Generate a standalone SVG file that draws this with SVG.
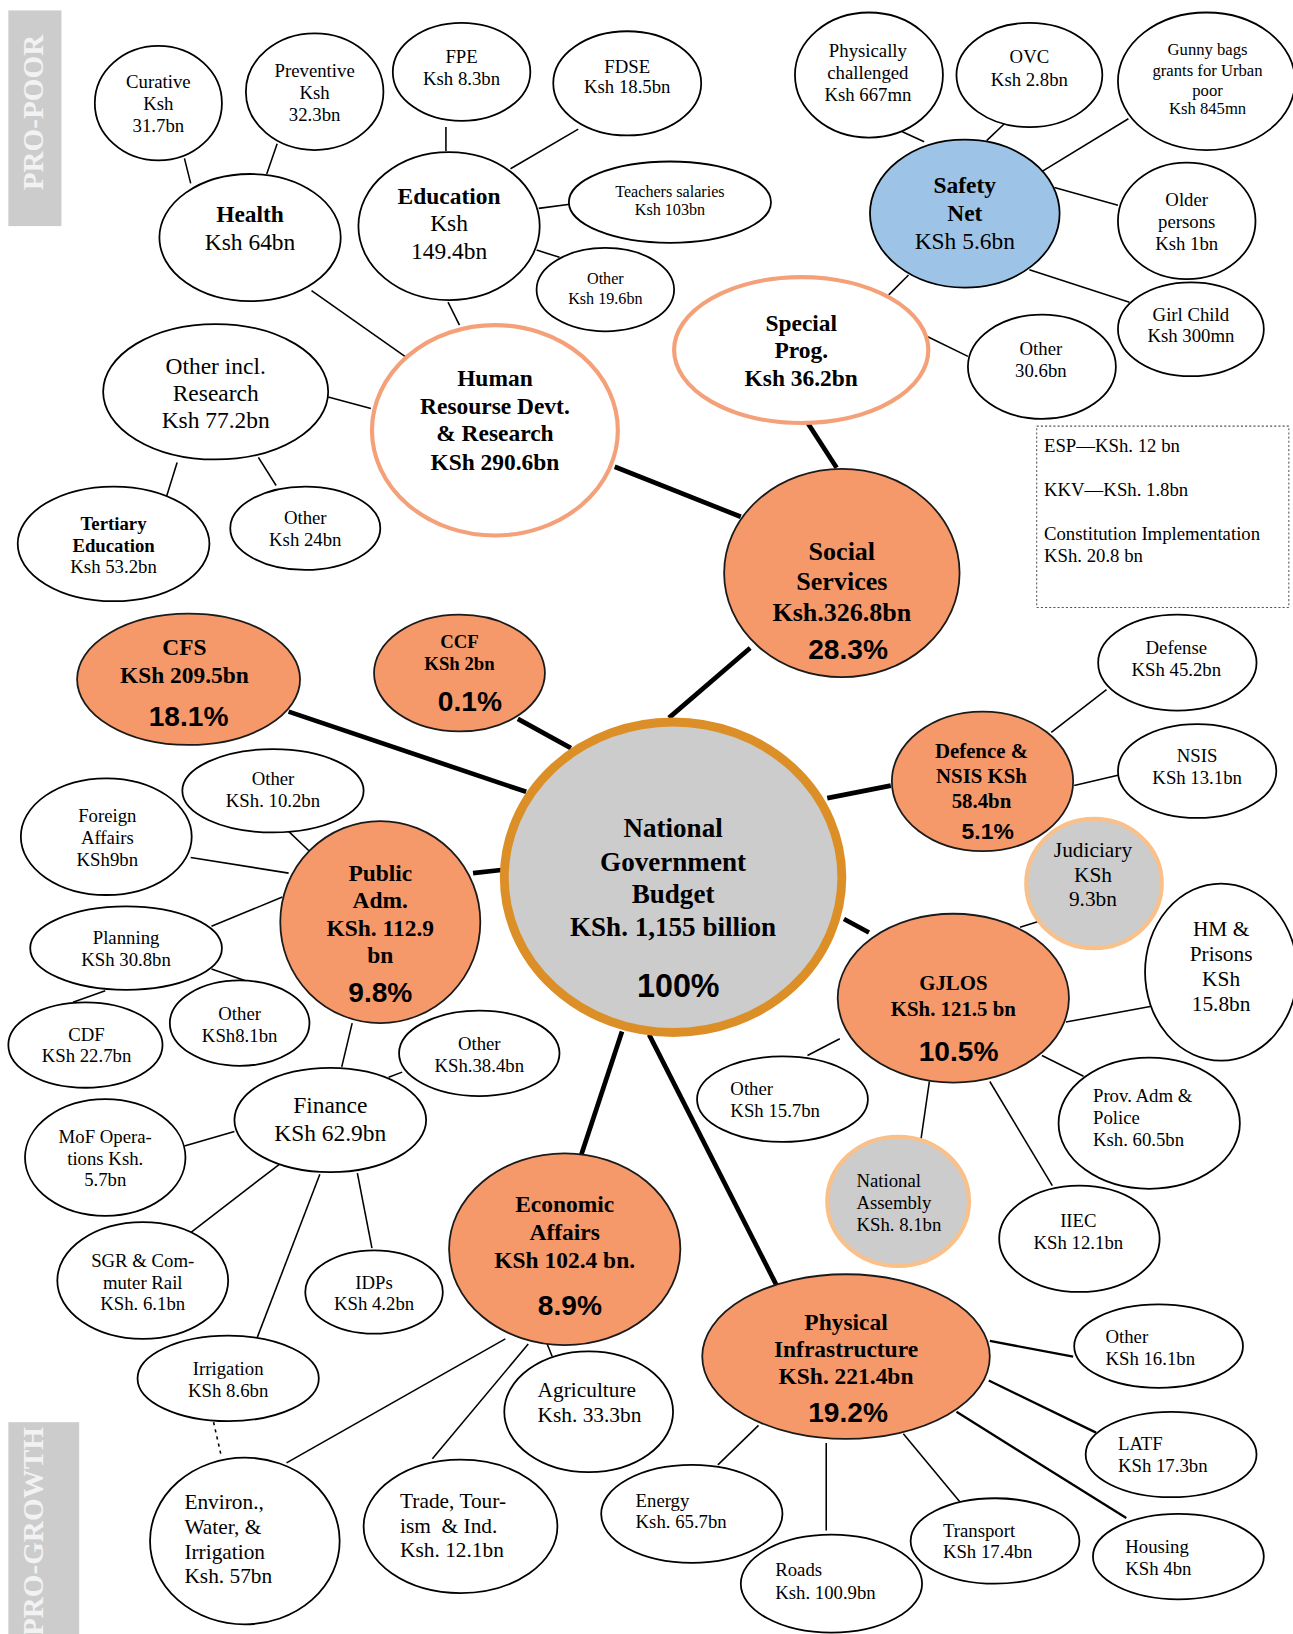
<svg xmlns="http://www.w3.org/2000/svg" width="1293" height="1634" viewBox="0 0 1293 1634">
<style>
.leaf{fill:#ffffff;stroke:#000000;stroke-width:1.7}
.org{fill:#f6996a;stroke:#1a1a1a;stroke-width:1.7}
.ring{fill:#ffffff;stroke:#f4a17a;stroke-width:4}
.grey{fill:#cccccc;stroke:#f9c08a;stroke-width:4}
.blue{fill:#9dc3e6;stroke:#000000;stroke-width:1.7}
text{font-family:"Liberation Serif","Times New Roman",serif;fill:#000000;dominant-baseline:central}
.c{text-anchor:middle}
.s{text-anchor:start}
.f15{font-size:15.5px}
.f16{font-size:16px}
.f18{font-size:18px}
.f20{font-size:20px}
.f205{font-size:20.5px}
.f22{font-size:22.5px}
.b{font-weight:bold}
.pct{font-family:"Liberation Sans",Arial,sans-serif;font-weight:bold;text-anchor:middle}
.side{font-weight:bold;font-size:28px;fill:#f2f2f2;text-anchor:middle}
.thin{stroke:#000000;stroke-width:1.5}
.mid{stroke:#000000;stroke-width:2.2}
.thick{stroke:#000000;stroke-width:4.5}
</style>
<rect x="0" y="0" width="1293" height="1634" fill="#ffffff"/>
<g transform="scale(1.0419)">
<g id="connectors" fill="none">
<line class="thick" x1="590" y1="448" x2="711" y2="496"/>
<line class="thick" x1="774" y1="404" x2="803" y2="449"/>
<line class="thick" x1="720" y1="622" x2="642" y2="689"/>
<line class="thick" x1="277" y1="683" x2="505" y2="760"/>
<line class="thick" x1="497" y1="690" x2="548" y2="718"/>
<line class="thick" x1="454" y1="838" x2="481" y2="835"/>
<line class="thick" x1="794" y1="766" x2="855" y2="754"/>
<line class="thick" x1="810" y1="882" x2="834" y2="895"/>
<line class="thick" x1="597" y1="990" x2="558" y2="1108"/>
<line class="thick" x1="623" y1="993" x2="745" y2="1233"/>
<line class="thin" x1="177" y1="152" x2="183" y2="176"/>
<line class="thin" x1="266" y1="138" x2="256" y2="167"/>
<line class="thin" x1="428" y1="122" x2="428" y2="145"/>
<line class="thin" x1="555" y1="124" x2="490" y2="162"/>
<line class="thin" x1="547" y1="196" x2="517" y2="200"/>
<line class="thin" x1="537" y1="247" x2="515" y2="240"/>
<line class="thin" x1="430" y1="290" x2="441" y2="312"/>
<line class="thin" x1="299" y1="279" x2="390" y2="343"/>
<line class="thin" x1="315" y1="381" x2="356" y2="392"/>
<line class="thin" x1="170" y1="444" x2="160" y2="476"/>
<line class="thin" x1="248" y1="439" x2="265" y2="466"/>
<line class="thin" x1="865" y1="126" x2="887" y2="136"/>
<line class="thin" x1="969" y1="114" x2="947" y2="135"/>
<line class="thin" x1="1083" y1="114" x2="1001" y2="164"/>
<line class="thin" x1="1073" y1="197" x2="1012" y2="180"/>
<line class="thin" x1="1084" y1="290" x2="988" y2="259"/>
<line class="thin" x1="872" y1="264" x2="853" y2="283"/>
<line class="thin" x1="890" y1="323" x2="929" y2="342"/>
<line class="thin" x1="1062" y1="662" x2="1009" y2="703"/>
<line class="thin" x1="1073" y1="744" x2="1031" y2="754"/>
<line class="thin" x1="979" y1="890" x2="998" y2="884"/>
<line class="thin" x1="1104" y1="966" x2="1023" y2="981"/>
<line class="thin" x1="775" y1="1013" x2="806" y2="997"/>
<line class="thin" x1="1000" y1="1013" x2="1040" y2="1033"/>
<line class="thin" x1="892" y1="1038" x2="884" y2="1093"/>
<line class="thin" x1="950" y1="1038" x2="1010" y2="1138"/>
<line class="thin" x1="275" y1="796" x2="297" y2="817"/>
<line class="thin" x1="183" y1="823" x2="277" y2="838"/>
<line class="thin" x1="203" y1="889" x2="271" y2="861"/>
<line class="thin" x1="203" y1="930" x2="235" y2="941"/>
<line class="thin" x1="101" y1="951" x2="70" y2="962"/>
<line class="thin" x1="338" y1="982" x2="328" y2="1024"/>
<line class="thin" x1="386" y1="1029" x2="373" y2="1034"/>
<line class="thin" x1="177" y1="1100" x2="225" y2="1086"/>
<line class="thin" x1="183" y1="1183" x2="270" y2="1116"/>
<line class="thin" x1="246" y1="1286" x2="307" y2="1127"/>
<line class="thin" x1="357" y1="1198" x2="343" y2="1126"/>
<line class="thin" x1="205" y1="1365" x2="212" y2="1396" stroke-dasharray="3,4"/>
<line class="thin" x1="485" y1="1285" x2="275" y2="1404"/>
<line class="thin" x1="507" y1="1290" x2="415" y2="1400"/>
<line class="thin" x1="524" y1="1287" x2="530" y2="1302"/>
<line class="mid" x1="950" y1="1287" x2="1030" y2="1302"/>
<line class="mid" x1="949" y1="1325" x2="1052" y2="1375"/>
<line class="mid" x1="918" y1="1355" x2="1081" y2="1457"/>
<line class="thin" x1="867" y1="1376" x2="921" y2="1441"/>
<line class="thin" x1="793" y1="1385" x2="793" y2="1469"/>
<line class="thin" x1="728" y1="1368" x2="689" y2="1406"/>
</g>

<g id="pro-poor"><rect x="8" y="10" width="51" height="207" fill="#cccccc"/><text class="side" transform="translate(32,108) rotate(-90)">PRO-POOR</text></g>
<g id="pro-growth"><rect x="8" y="1365" width="68" height="210" fill="#cccccc"/><text class="side" transform="translate(32,1470) rotate(-90)">PRO-GROWTH</text></g>

<g id="curative"><ellipse class="leaf" cx="152" cy="99" rx="61" ry="55"/><text class="c f18"><tspan x="152" y="78">Curative</tspan><tspan x="152" y="99">Ksh</tspan><tspan x="152" y="120">31.7bn</tspan></text></g>
<g id="preventive"><ellipse class="leaf" cx="302" cy="88" rx="66" ry="56"/><text class="c f18"><tspan x="302" y="67">Preventive</tspan><tspan x="302" y="88">Ksh</tspan><tspan x="302" y="109">32.3bn</tspan></text></g>
<g id="fpe"><ellipse class="leaf" cx="443" cy="69" rx="66" ry="47"/><text class="c f18"><tspan x="443" y="54">FPE</tspan><tspan x="443" y="75">Ksh 8.3bn</tspan></text></g>
<g id="fdse"><ellipse class="leaf" cx="602" cy="80" rx="71" ry="50"/><text class="c f18"><tspan x="602" y="63">FDSE</tspan><tspan x="602" y="83">Ksh 18.5bn</tspan></text></g>
<g id="health"><ellipse class="leaf" cx="240" cy="228" rx="87" ry="61"/><text class="c f22"><tspan x="240" y="205" class="b">Health</tspan><tspan x="240" y="232">Ksh 64bn</tspan></text></g>
<g id="education"><ellipse class="leaf" cx="431" cy="217" rx="87" ry="71"/><text class="c f22"><tspan x="431" y="188" class="b">Education</tspan><tspan x="431" y="214">Ksh</tspan><tspan x="431" y="241">149.4bn</tspan></text></g>
<g id="teachers"><ellipse class="leaf" cx="643" cy="194" rx="97" ry="39"/><text class="c f15"><tspan x="643" y="183">Teachers salaries</tspan><tspan x="643" y="201">Ksh 103bn</tspan></text></g>
<g id="edu-other"><ellipse class="leaf" cx="581" cy="278" rx="66" ry="40"/><text class="c f15"><tspan x="581" y="267">Other</tspan><tspan x="581" y="286">Ksh 19.6bn</tspan></text></g>
<g id="hrd"><ellipse class="ring" cx="475" cy="413" rx="118" ry="101"/><text class="c f22 b"><tspan x="475" y="363">Human</tspan><tspan x="475" y="390">Resourse Devt.</tspan><tspan x="475" y="416">&amp; Research</tspan><tspan x="475" y="443">KSh 290.6bn</tspan></text></g>
<g id="other-incl"><ellipse class="leaf" cx="207" cy="376" rx="108" ry="65"/><text class="c f22"><tspan x="207" y="351">Other incl.</tspan><tspan x="207" y="377">Research</tspan><tspan x="207" y="403">Ksh 77.2bn</tspan></text></g>
<g id="tertiary"><ellipse class="leaf" cx="109" cy="522" rx="92" ry="55"/><text class="c f18"><tspan x="109" y="502" class="b">Tertiary</tspan><tspan x="109" y="523" class="b">Education</tspan><tspan x="109" y="543">Ksh 53.2bn</tspan></text></g>
<g id="hrd-other"><ellipse class="leaf" cx="293" cy="507" rx="72" ry="40"/><text class="c f18"><tspan x="293" y="496">Other</tspan><tspan x="293" y="517">Ksh 24bn</tspan></text></g>

<g id="physically"><ellipse class="leaf" cx="834" cy="72" rx="71" ry="60"/><text class="c f18"><tspan x="833" y="48">Physically</tspan><tspan x="833" y="69">challenged</tspan><tspan x="833" y="90">Ksh 667mn</tspan></text></g>
<g id="ovc"><ellipse class="leaf" cx="988" cy="72" rx="70" ry="50"/><text class="c f18"><tspan x="988" y="54">OVC</tspan><tspan x="988" y="76">Ksh 2.8bn</tspan></text></g>
<g id="gunny"><ellipse class="leaf" cx="1158" cy="78" rx="85" ry="66"/><text class="c f16"><tspan x="1159" y="47">Gunny bags</tspan><tspan x="1159" y="67">grants for Urban</tspan><tspan x="1159" y="86">poor</tspan><tspan x="1159" y="104">Ksh 845mn</tspan></text></g>
<g id="safety-net"><ellipse class="blue" cx="926" cy="205" rx="91" ry="71"/><text class="c f22"><tspan x="926" y="178" class="b">Safety</tspan><tspan x="926" y="204" class="b">Net</tspan><tspan x="926" y="231">KSh 5.6bn</tspan></text></g>
<g id="older"><ellipse class="leaf" cx="1139" cy="212" rx="66" ry="56"/><text class="c f18"><tspan x="1139" y="191">Older</tspan><tspan x="1139" y="212">persons</tspan><tspan x="1139" y="233">Ksh 1bn</tspan></text></g>
<g id="girl-child"><ellipse class="leaf" cx="1143" cy="316" rx="70" ry="45"/><text class="c f18"><tspan x="1143" y="301">Girl Child</tspan><tspan x="1143" y="322">Ksh 300mn</tspan></text></g>
<g id="special"><ellipse class="ring" cx="769" cy="336" rx="122" ry="70"/><text class="c f22 b"><tspan x="769" y="310">Special</tspan><tspan x="769" y="336">Prog.</tspan><tspan x="769" y="363">Ksh 36.2bn</tspan></text></g>
<g id="special-other"><ellipse class="leaf" cx="1000" cy="352" rx="71" ry="50"/><text class="c f18"><tspan x="999" y="334">Other</tspan><tspan x="999" y="355">30.6bn</tspan></text></g>
<g id="notes"><rect x="995" y="409" width="242" height="174" fill="none" stroke="#555555" stroke-width="1" stroke-dasharray="2,2"/><text class="s f18"><tspan x="1002" y="427">ESP—KSh. 12 bn</tspan><tspan x="1002" y="469">KKV—KSh. 1.8bn</tspan><tspan x="1002" y="512">Constitution Implementation</tspan><tspan x="1002" y="533">KSh. 20.8 bn</tspan></text></g>
<g id="social"><ellipse class="org" cx="808" cy="550" rx="113" ry="100"/><text class="c b" style="font-size:25px"><tspan x="808" y="529">Social</tspan><tspan x="808" y="558">Services</tspan><tspan x="808" y="587">Ksh.326.8bn</tspan></text><text class="pct" x="814" y="623" style="font-size:27px">28.3%</text></g>

<g id="cfs"><ellipse class="org" cx="181" cy="652" rx="107" ry="63"/><text class="c f22 b"><tspan x="177" y="621">CFS</tspan><tspan x="177" y="648">KSh 209.5bn</tspan></text><text class="pct" x="181" y="688" style="font-size:27px">18.1%</text></g>
<g id="ccf"><ellipse class="org" cx="441" cy="646" rx="82" ry="56"/><text class="c f18 b"><tspan x="441" y="615">CCF</tspan><tspan x="441" y="636">KSh 2bn</tspan></text><text class="pct" x="451" y="673" style="font-size:27px">0.1%</text></g>
<g id="ngb"><ellipse cx="646" cy="842" rx="162" ry="149" fill="#cccccc" stroke="#dc8f27" stroke-width="8.5"/><text class="c b" style="font-size:26px"><tspan x="646" y="795">National</tspan><tspan x="646" y="827">Government</tspan><tspan x="646" y="858">Budget</tspan><tspan x="646" y="890">KSh. 1,155 billion</tspan></text><text class="pct" x="651" y="946" style="font-size:31px">100%</text></g>
<g id="defence"><ellipse class="org" cx="943" cy="750" rx="87" ry="67"/><text class="c f20 b"><tspan x="942" y="721">Defence &amp;</tspan><tspan x="942" y="745">NSIS KSh</tspan><tspan x="942" y="769">58.4bn</tspan></text><text class="pct" x="948" y="798" style="font-size:22px">5.1%</text></g>
<g id="defense"><ellipse class="leaf" cx="1130" cy="636" rx="76" ry="46"/><text class="c f18"><tspan x="1129" y="621">Defense</tspan><tspan x="1129" y="642">KSh 45.2bn</tspan></text></g>
<g id="nsis"><ellipse class="leaf" cx="1149" cy="740" rx="76" ry="45"/><text class="c f18"><tspan x="1149" y="725">NSIS</tspan><tspan x="1149" y="746">KSh 13.1bn</tspan></text></g>
<g id="judiciary"><ellipse class="grey" cx="1050" cy="848" rx="65" ry="62"/><text class="c f205"><tspan x="1049" y="816">Judiciary</tspan><tspan x="1049" y="840">KSh</tspan><tspan x="1049" y="863">9.3bn</tspan></text></g>
<g id="hm-prisons"><ellipse class="leaf" cx="1172" cy="933" rx="73" ry="85"/><text class="c f205"><tspan x="1172" y="892">HM &amp;</tspan><tspan x="1172" y="916">Prisons</tspan><tspan x="1172" y="940">KSh</tspan><tspan x="1172" y="964">15.8bn</tspan></text></g>
<g id="gjlos"><ellipse class="org" cx="915" cy="958" rx="111" ry="81"/><text class="c f20 b"><tspan x="915" y="943">GJLOS</tspan><tspan x="915" y="968">KSh. 121.5 bn</tspan></text><text class="pct" x="920" y="1009" style="font-size:27px">10.5%</text></g>
<g id="gjlos-other"><ellipse class="leaf" cx="751" cy="1055" rx="82" ry="41"/><text class="s f18"><tspan x="701" y="1044">Other</tspan><tspan x="701" y="1065">KSh 15.7bn</tspan></text></g>
<g id="prov-adm"><ellipse class="leaf" cx="1103" cy="1078" rx="87" ry="63"/><text class="s f18"><tspan x="1049" y="1051">Prov. Adm &amp;</tspan><tspan x="1049" y="1072">Police</tspan><tspan x="1049" y="1093">Ksh. 60.5bn</tspan></text></g>
<g id="nat-assembly"><ellipse class="grey" cx="862" cy="1153" rx="68" ry="62"/><text class="s f18"><tspan x="822" y="1133">National</tspan><tspan x="822" y="1154">Assembly</tspan><tspan x="822" y="1175">KSh. 8.1bn</tspan></text></g>
<g id="iiec"><ellipse class="leaf" cx="1036" cy="1189" rx="77" ry="51"/><text class="c f18"><tspan x="1035" y="1171">IIEC</tspan><tspan x="1035" y="1192">KSh 12.1bn</tspan></text></g>

<g id="public-adm"><ellipse class="org" cx="365" cy="885" rx="96" ry="97"/><text class="c f22 b"><tspan x="365" y="838">Public</tspan><tspan x="365" y="864">Adm.</tspan><tspan x="365" y="891">KSh. 112.9</tspan><tspan x="365" y="917">bn</tspan></text><text class="pct" x="365" y="953" style="font-size:27px">9.8%</text></g>
<g id="pa-other1"><ellipse class="leaf" cx="262" cy="759" rx="87" ry="40"/><text class="c f18"><tspan x="262" y="747">Other</tspan><tspan x="262" y="768">KSh. 10.2bn</tspan></text></g>
<g id="foreign"><ellipse class="leaf" cx="102" cy="803" rx="82" ry="56"/><text class="c f18"><tspan x="103" y="782">Foreign</tspan><tspan x="103" y="803">Affairs</tspan><tspan x="103" y="824">KSh9bn</tspan></text></g>
<g id="planning"><ellipse class="leaf" cx="121" cy="910" rx="92" ry="40"/><text class="c f18"><tspan x="121" y="899">Planning</tspan><tspan x="121" y="920">KSh 30.8bn</tspan></text></g>
<g id="cdf"><ellipse class="leaf" cx="82" cy="1003" rx="74" ry="41"/><text class="c f18"><tspan x="83" y="992">CDF</tspan><tspan x="83" y="1013">KSh 22.7bn</tspan></text></g>
<g id="pa-other2"><ellipse class="leaf" cx="230" cy="982" rx="67" ry="41"/><text class="c f18"><tspan x="230" y="972">Other</tspan><tspan x="230" y="993">KSh8.1bn</tspan></text></g>
<g id="pa-other3"><ellipse class="leaf" cx="460" cy="1011" rx="77" ry="41"/><text class="c f18"><tspan x="460" y="1001">Other</tspan><tspan x="460" y="1022">KSh.38.4bn</tspan></text></g>
<g id="finance"><ellipse class="leaf" cx="317" cy="1075" rx="92" ry="50"/><text class="c f22"><tspan x="317" y="1061">Finance</tspan><tspan x="317" y="1087">KSh 62.9bn</tspan></text></g>
<g id="mof"><ellipse class="leaf" cx="101" cy="1111" rx="77" ry="56"/><text class="c f18"><tspan x="101" y="1090">MoF Opera-</tspan><tspan x="101" y="1111">tions Ksh.</tspan><tspan x="101" y="1132">5.7bn</tspan></text></g>
<g id="sgr"><ellipse class="leaf" cx="137" cy="1229" rx="82" ry="56"/><text class="c f18"><tspan x="137" y="1209">SGR &amp; Com-</tspan><tspan x="137" y="1230">muter Rail</tspan><tspan x="137" y="1251">KSh. 6.1bn</tspan></text></g>
<g id="idps"><ellipse class="leaf" cx="359" cy="1240" rx="66" ry="40"/><text class="c f18"><tspan x="359" y="1230">IDPs</tspan><tspan x="359" y="1251">KSh 4.2bn</tspan></text></g>
<g id="irrigation"><ellipse class="leaf" cx="219" cy="1323" rx="87" ry="41"/><text class="c f18"><tspan x="219" y="1313">Irrigation</tspan><tspan x="219" y="1334">KSh 8.6bn</tspan></text></g>

<g id="economic"><ellipse class="org" cx="542" cy="1199" rx="111" ry="92"/><text class="c f22 b"><tspan x="542" y="1156">Economic</tspan><tspan x="542" y="1182">Affairs</tspan><tspan x="542" y="1209">KSh 102.4 bn.</tspan></text><text class="pct" x="547" y="1253" style="font-size:27px">8.9%</text></g>
<g id="agriculture"><ellipse class="leaf" cx="565" cy="1355" rx="81" ry="58"/><text class="s f205"><tspan x="516" y="1334">Agriculture</tspan><tspan x="516" y="1358">Ksh. 33.3bn</tspan></text></g>
<g id="environ"><ellipse class="leaf" cx="235" cy="1479" rx="91" ry="80"/><text class="s f205"><tspan x="177" y="1442">Environ.,</tspan><tspan x="177" y="1466">Water, &amp;</tspan><tspan x="177" y="1490">Irrigation</tspan><tspan x="177" y="1513">Ksh. 57bn</tspan></text></g>
<g id="trade"><ellipse class="leaf" cx="442" cy="1465" rx="93" ry="64"/><text class="s f205"><tspan x="384" y="1441">Trade, Tour-</tspan><tspan x="384" y="1465" xml:space="preserve">ism  &amp; Ind.</tspan><tspan x="384" y="1488">Ksh. 12.1bn</tspan></text></g>

<g id="physical"><ellipse class="org" cx="812" cy="1302" rx="138" ry="79"/><text class="c f22 b"><tspan x="812" y="1269">Physical</tspan><tspan x="812" y="1295">Infrastructure</tspan><tspan x="812" y="1321">KSh. 221.4bn</tspan></text><text class="pct" x="814" y="1356" style="font-size:27px">19.2%</text></g>
<g id="pi-other"><ellipse class="leaf" cx="1112" cy="1292" rx="81" ry="40"/><text class="s f18"><tspan x="1061" y="1282">Other</tspan><tspan x="1061" y="1303">KSh 16.1bn</tspan></text></g>
<g id="latf"><ellipse class="leaf" cx="1124" cy="1396" rx="82" ry="41"/><text class="s f18"><tspan x="1073" y="1385">LATF</tspan><tspan x="1073" y="1406">KSh 17.3bn</tspan></text></g>
<g id="energy"><ellipse class="leaf" cx="664" cy="1453" rx="87" ry="47"/><text class="s f18"><tspan x="610" y="1440">Energy</tspan><tspan x="610" y="1460">Ksh. 65.7bn</tspan></text></g>
<g id="roads"><ellipse class="leaf" cx="798" cy="1520" rx="87" ry="47"/><text class="s f18"><tspan x="744" y="1506">Roads</tspan><tspan x="744" y="1528">Ksh. 100.9bn</tspan></text></g>
<g id="transport"><ellipse class="leaf" cx="955" cy="1479" rx="81" ry="41"/><text class="s f18"><tspan x="905" y="1468">Transport</tspan><tspan x="905" y="1489">KSh 17.4bn</tspan></text></g>
<g id="housing"><ellipse class="leaf" cx="1131" cy="1494" rx="82" ry="41"/><text class="s f18"><tspan x="1080" y="1484">Housing</tspan><tspan x="1080" y="1505">KSh 4bn</tspan></text></g>
</g>
</svg>
